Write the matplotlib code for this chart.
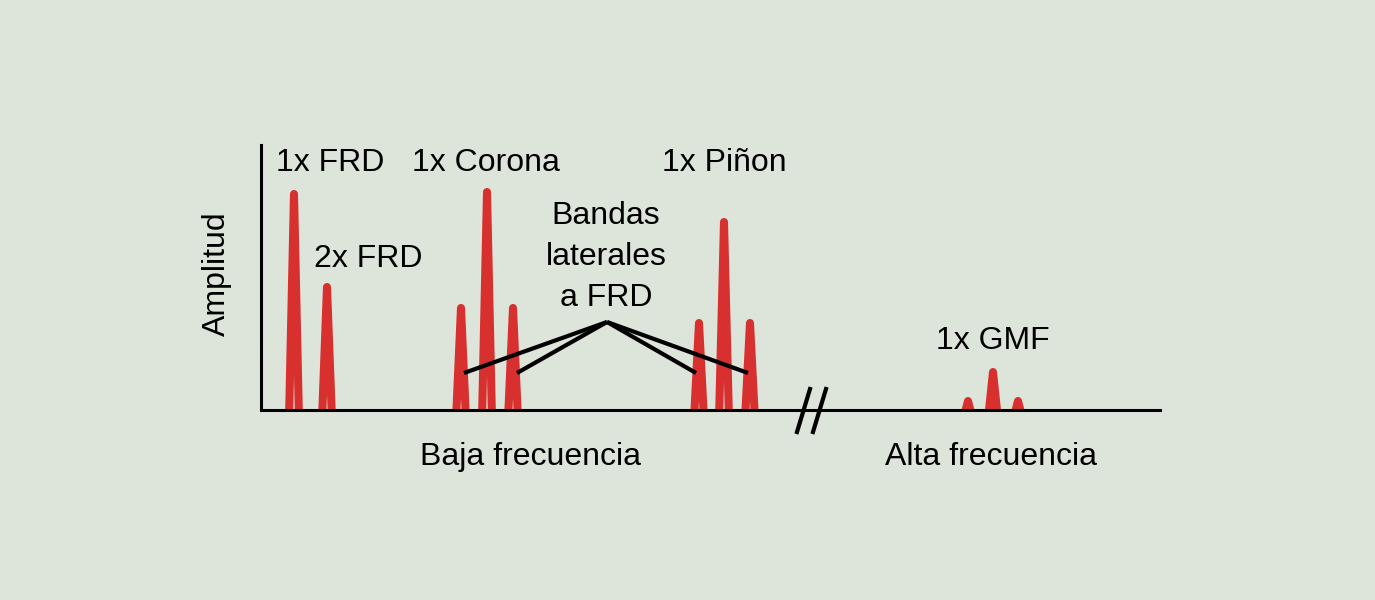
import numpy as np
import matplotlib
matplotlib.use('Agg')
import matplotlib.pyplot as plt

plt.rcParams['font.family'] = ['Liberation Sans', 'DejaVu Sans']

# peaks (frequency and amplitude in arbitrary units)
peak_freq = [33, 66, 200, 226, 252, 438, 463, 489, 707, 732, 757]
peak_amp = [216, 123, 102, 218, 102, 87, 188, 87, 9, 38, 9]
peak_halfwidth = 5

# labels: text, x, y
label_text = ['1x FRD', '2x FRD', '1x Corona', '1x Piñon', 'Bandas\nlaterales\na FRD', '1x GMF']
label_x = [69, 107, 225, 463, 345, 732]
label_y = [247, 151, 247, 247, 153, 69]

# sideband pointer: apex and the four sidebands it points to
pointer_apex = (346, 88)
pointer_ends_x = [203, 256, 435, 487]
pointer_ends_y = [37, 37, 37, 37]

bg = '#dde4da'
red = '#d7302f'

fig = plt.figure(figsize=(13.75, 6), dpi=100)
fig.patch.set_facecolor(bg)
ax = fig.add_axes([261 / 1375, 190 / 600, 899 / 1375, 265 / 600])
ax.set_facecolor(bg)
ax.set_xlim(0, 899)
ax.set_ylim(0, 265)

# each peak is a thick triangle, cut off by the baseline
for f, a in zip(peak_freq, peak_amp):
    ax.plot([f - peak_halfwidth, f, f + peak_halfwidth], [-10, a, -10],
            color=red, lw=5.8, solid_joinstyle='round', solid_capstyle='butt', zorder=2)

for ex, ey in zip(pointer_ends_x, pointer_ends_y):
    ax.plot([pointer_apex[0], ex], [pointer_apex[1], ey], color='black', lw=3,
            solid_capstyle='butt', zorder=3)

for t, x, y in zip(label_text, label_x, label_y):
    ax.text(x, y, t, ha='center', va='center', fontsize=23, linespacing=1.49, clip_on=False)

# axis break
for x0 in [536, 552]:
    ax.plot([x0, x0 + 13], [-22, 21], color='black', lw=3, clip_on=False, zorder=4)

ax.text(270, -47, 'Baja frecuencia', ha='center', va='center', fontsize=23, clip_on=False)
ax.text(730, -47, 'Alta frecuencia', ha='center', va='center', fontsize=23, clip_on=False)
ax.text(-44, 136, 'Amplitud', ha='center', va='center', fontsize=23, rotation=90, clip_on=False)

for s in ['top', 'right']:
    ax.spines[s].set_visible(False)
for s in ['left', 'bottom']:
    ax.spines[s].set_linewidth(2.2)
    ax.spines[s].set_color('black')
    ax.spines[s].set_zorder(5)
ax.set_xticks([])
ax.set_yticks([])

fig.savefig('out.png', dpi=100, facecolor=bg)
